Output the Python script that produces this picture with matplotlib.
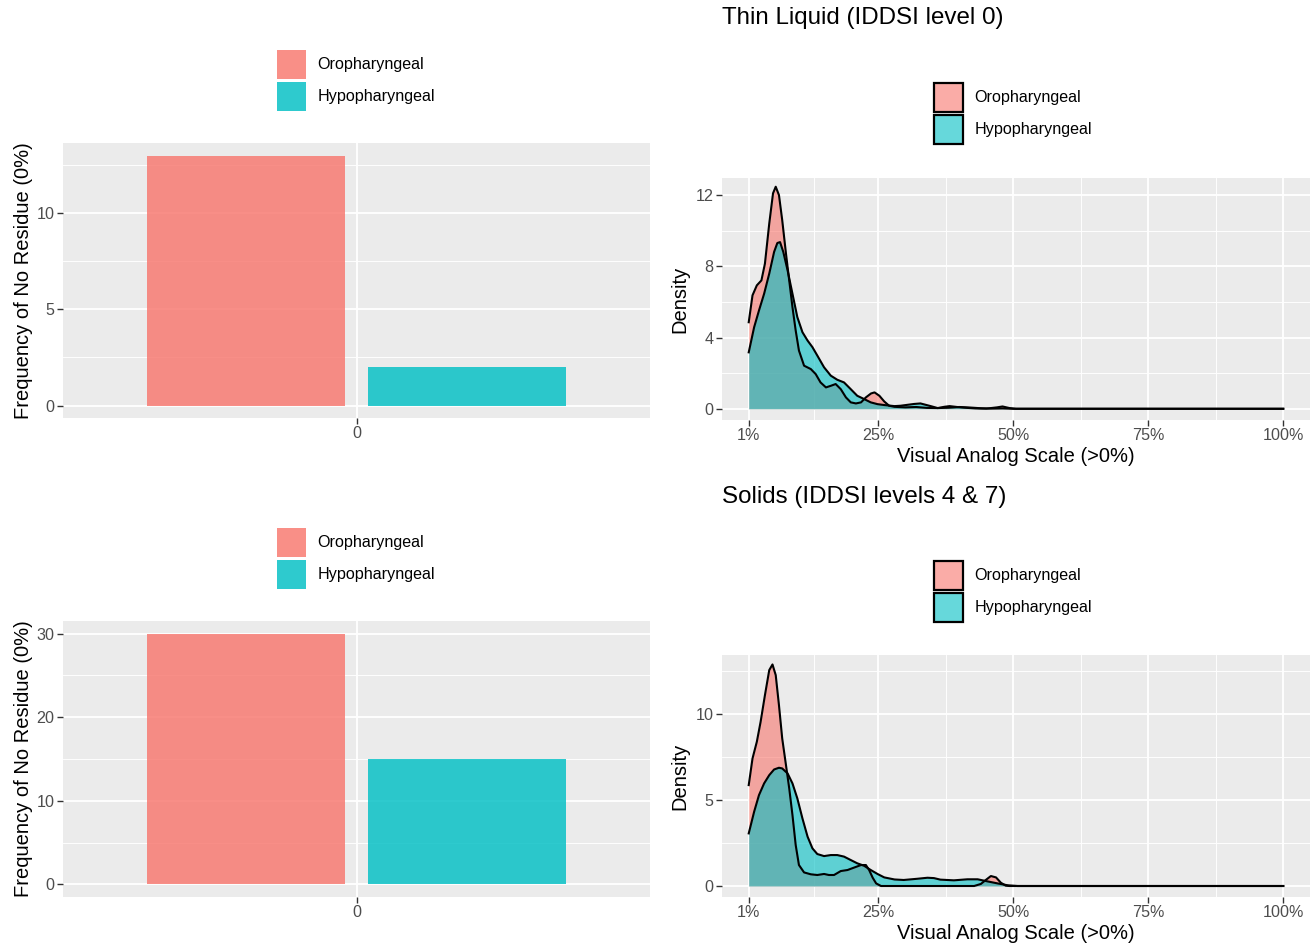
import numpy as np
import matplotlib
matplotlib.use('Agg')
import matplotlib.pyplot as plt
from matplotlib.colors import to_rgba
from matplotlib.patches import Patch

plt.rcParams['font.family'] = ['Liberation Sans', 'DejaVu Sans']

# data
groups = ['Oropharyngeal', 'Hypopharyngeal']
thin_counts = [13, 2]
solid_counts = [30, 15]

vas_breaks = [1, 25, 50, 75, 100]
vas_labels = ['1%', '25%', '50%', '75%', '100%']

thin_oro_x = [1, 1.7, 2.5, 3.35, 4, 4.8, 5.5, 6, 6.6, 7.2, 7.9, 8.5, 9.1, 9.7, 10.3,
              11.25, 12.5, 13.4, 14.3, 15.3, 16.2, 17.1, 18.05, 19, 19.9, 20.85, 21.8,
              22.7, 23.65, 24.3, 25.2, 26.1, 27, 28, 30, 32, 34, 36, 37.2, 38.2, 39.6,
              41.5, 43, 45, 47, 48, 49.3, 50.5, 100]
thin_oro_y = [4.86, 6.37, 6.93, 7.21, 8.15, 10.4, 12.1, 12.47, 12.0, 10.6, 8.71, 7.21,
              5.71, 4.39, 3.27, 2.42, 2.23, 1.95, 1.48, 1.2, 1.29, 1.39, 1.1, 0.64, 0.36,
              0.3, 0.36, 0.64, 0.86, 0.92, 0.73, 0.41, 0.17, 0.11, 0.08, 0.1, 0.05, 0.04,
              0.11, 0.15, 0.1, 0.05, 0.02, 0.01, 0.08, 0.13, 0.04, 0, 0]

thin_hypo_x = [1, 2, 2.9, 3.85, 4.8, 5.7, 6.3, 6.8, 7.4, 8.2, 9.1, 10, 10.95, 11.9,
               12.8, 13.7, 14.95, 16.2, 17.4, 18.65, 19.9, 21.1, 22.35, 23.6, 24.85,
               26.1, 28, 29.1, 31.6, 32.8, 34.7, 36, 38, 40, 42, 44, 46, 48, 50, 100]
thin_hypo_y = [3.17, 4.58, 5.52, 6.46, 7.59, 8.81, 9.31, 9.36, 8.81, 7.77, 6.46, 5.15,
               4.3, 3.83, 3.46, 2.99, 2.33, 1.86, 1.63, 1.48, 1.1, 0.73, 0.55, 0.36,
               0.26, 0.21, 0.15, 0.17, 0.27, 0.3, 0.15, 0.04, 0.06, 0.1, 0.07, 0.03,
               0.01, 0.02, 0, 0]

solid_oro_x = [1, 1.7, 2.5, 3.2, 4, 4.8, 5.4, 6, 6.6, 7.2, 7.9, 8.5, 9.1, 9.7, 10.3,
               11.25, 12.5, 13.7, 14.95, 15.85, 16.8, 18.05, 19.3, 20.5, 21.8, 22.7,
               23.3, 23.96, 24.6, 25.5, 42.75, 44, 44.9, 45.85, 46.8, 47.7, 48.6, 49.3,
               100]
solid_oro_y = [5.87, 7.42, 8.39, 9.55, 11.1, 12.56, 12.89, 12.27, 10.52, 8.59, 7.03,
               5.68, 4.13, 2.38, 1.22, 0.79, 0.68, 0.64, 0.70, 0.64, 0.64, 0.87, 0.93,
               1.07, 1.22, 1.22, 0.93, 0.48, 0.15, 0, 0, 0.12, 0.35, 0.58, 0.5, 0.19,
               0.02, 0, 0]

solid_hypo_x = [1, 2, 2.9, 3.85, 4.8, 5.7, 6.6, 7.2, 8.2, 9.1, 10, 10.95, 11.9, 12.8,
                13.7, 14.95, 16.2, 17.4, 18.65, 19.9, 21.1, 22.35, 23.6, 24.85, 26.1,
                28, 29.7, 32.2, 34.1, 35.3, 36.5, 39, 41.5, 43.4, 45.2, 47.1, 49, 50.8,
                100]
solid_hypo_y = [3.06, 4.32, 5.29, 5.97, 6.45, 6.78, 6.88, 6.84, 6.55, 5.97, 5.1, 3.93,
                2.87, 2.19, 1.86, 1.74, 1.8, 1.8, 1.71, 1.51, 1.32, 1.18, 0.93, 0.70,
                0.5, 0.38, 0.35, 0.42, 0.48, 0.46, 0.37, 0.33, 0.39, 0.39, 0.27, 0.15,
                0.04, 0, 0]

colors = ['#F8766D', '#00BFC4']
W, H = 1314, 947
fig = plt.figure(figsize=(W / 100, H / 100), dpi=100)


def px_axes(left, top, right, bottom):
    return fig.add_axes([left / W, 1 - bottom / H, (right - left) / W, (bottom - top) / H])


def gg_style(ax, xminor, yminor):
    ax.set_facecolor('#EBEBEB')
    for s in ax.spines.values():
        s.set_visible(False)
    ax.set_axisbelow(True)
    ax.grid(True, which='major', color='white', lw=1.3)
    ax.set_xticks(xminor, minor=True)
    ax.set_yticks(yminor, minor=True)
    ax.grid(True, which='minor', color='white', lw=0.65)
    ax.tick_params(which='major', length=4, width=1, color='#333333',
                   labelsize=11.6, labelcolor='#4D4D4D', pad=2)
    ax.tick_params(which='minor', length=0)


def bar_panel(ax, counts, ymax_break, ystep):
    # dodge2: total width 0.9, padding 0.1
    w = 0.9 / len(groups)
    offsets = (np.arange(len(groups)) - (len(groups) - 1) / 2) * w
    ax.bar(offsets, counts, width=w * 0.9, color=colors, alpha=0.82, edgecolor='none')
    ax.set_xlim(-0.6, 0.6)
    top = max(counts)
    ax.set_ylim(-0.05 * top, 1.05 * top)
    ax.set_xticks([0])
    ax.set_xticklabels(['0'])
    ax.set_yticks(np.arange(0, ymax_break + 1, ystep))
    gg_style(ax, [], np.arange(ystep / 2, 1.05 * top, ystep))
    ax.set_ylabel('Frequency of No Residue (0%)', fontsize=14.5)
    ax.yaxis.set_label_coords(-(63 - 33) / 587, 0.5)


def density_panel(ax, ox, oy, hx, hy, ylim, yticks, yminor):
    ax.fill_between(ox, oy, color=colors[0], alpha=0.6, lw=0)
    ax.plot(ox, oy, color='black', lw=1.5)
    ax.fill_between(hx, hy, color=colors[1], alpha=0.6, lw=0)
    ax.plot(hx, hy, color='black', lw=1.5)
    ax.set_xlim(1 - 0.05 * 99, 100 + 0.05 * 99)
    ax.set_ylim(*ylim)
    ax.set_xticks(vas_breaks)
    ax.set_xticklabels(vas_labels)
    ax.set_yticks(yticks)
    gg_style(ax, [13, 37.5, 62.5, 87.5], yminor)
    ax.set_ylabel('Density', fontsize=14.5)
    ax.yaxis.set_label_coords(-(722 - 689) / 588, 0.5)
    ax.set_xlabel('Visual Analog Scale (>0%)', fontsize=14.5)
    ax.xaxis.set_label_coords(0.5, -(447 - 420) / 242)


def add_legend(x, y, edge):
    if edge:
        handles = [Patch(facecolor=to_rgba(c, 0.6), edgecolor='black', lw=1.6) for c in colors]
        spacing = 0.17
    else:
        handles = [Patch(facecolor=to_rgba(c, 0.82), edgecolor='none') for c in colors]
        spacing = 0.19
    fig.legend(handles, groups, loc='upper left', bbox_to_anchor=(x / W, 1 - y / H),
               frameon=False, fontsize=11.6, handlelength=1.8, handleheight=2.39,
               handletextpad=0.7, labelspacing=spacing, borderpad=0, borderaxespad=0)


ax1 = px_axes(63, 143, 650, 418)
bar_panel(ax1, thin_counts, 10, 5)
add_legend(277, 50, False)

ax2 = px_axes(722, 178, 1310, 420)
density_panel(ax2, thin_oro_x, thin_oro_y, thin_hypo_x, thin_hypo_y,
              (-0.63, 12.96), [0, 4, 8, 12], [2, 6, 10])
add_legend(934, 83, True)
fig.text(722 / W, 1 - 18 / H, 'Thin Liquid (IDDSI level 0)', fontsize=17.4,
         ha='left', va='center')

ax3 = px_axes(63, 621, 650, 897)
bar_panel(ax3, solid_counts, 30, 10)
add_legend(277, 528, False)

ax4 = px_axes(722, 655, 1310, 897)
density_panel(ax4, solid_oro_x, solid_oro_y, solid_hypo_x, solid_hypo_y,
              (-0.64, 13.44), [0, 5, 10], [2.5, 7.5, 12.5])
add_legend(934, 561, True)
fig.text(722 / W, 1 - 497 / H, 'Solids (IDDSI levels 4 & 7)', fontsize=17.4,
         ha='left', va='center')

fig.savefig('out.png', dpi=100)
